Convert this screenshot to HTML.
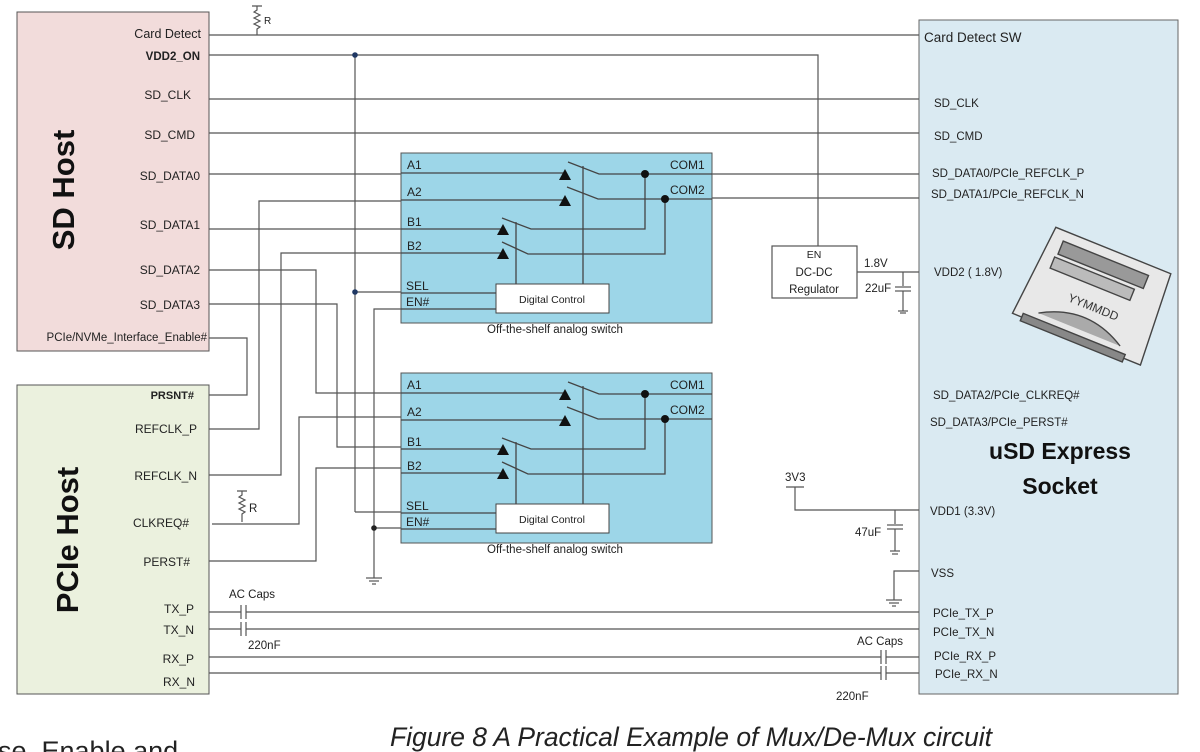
<!DOCTYPE html>
<html><head><meta charset="utf-8"><style>
html,body{margin:0;padding:0;background:#fff;}
svg{display:block;font-family:"Liberation Sans",sans-serif;}
</style></head><body>
<svg width="1200" height="752" viewBox="0 0 1200 752" xmlns="http://www.w3.org/2000/svg">
<defs>
<g id="sw">
  <rect x="401" y="153" width="311" height="170" fill="#9dd6e8" stroke="#555" stroke-width="1"/>
  <g stroke="#444" stroke-width="1.3" fill="none">
    <line x1="401" y1="173" x2="565" y2="173"/>
    <line x1="401" y1="200" x2="565" y2="200"/>
    <line x1="401" y1="229" x2="503" y2="229"/>
    <line x1="401" y1="253" x2="503" y2="253"/>
    <polyline points="568,162 599,174 712,174"/>
    <polyline points="567,187 598,199 712,199"/>
    <polyline points="502,218 531,229 645,229 645,174"/>
    <polyline points="502,242 528,254 665,254 665,199"/>
    <line x1="583" y1="166" x2="583" y2="284"/>
    <line x1="516" y1="222" x2="516" y2="284"/>
    <line x1="401" y1="293" x2="496" y2="293"/>
    <line x1="401" y1="309" x2="496" y2="309"/>
  </g>
  <polygon points="559,180 565,169 571,180" fill="#111"/>
  <polygon points="559,206 565,195 571,206" fill="#111"/>
  <polygon points="497,235 503,224 509,235" fill="#111"/>
  <polygon points="497,259 503,248 509,259" fill="#111"/>
  <circle cx="645" cy="174" r="4" fill="#111"/>
  <circle cx="665" cy="199" r="4" fill="#111"/>
  <rect x="496" y="284" width="113" height="29" fill="#fff" stroke="#444" stroke-width="1"/>
  <text x="552" y="303" font-size="10.5" text-anchor="middle" fill="#222">Digital Control</text>
  <g font-size="12" fill="#222">
    <text x="407" y="169">A1</text><text x="407" y="196">A2</text>
    <text x="407" y="226">B1</text><text x="407" y="250">B2</text>
    <text x="406" y="290">SEL</text><text x="406" y="306">EN#</text>
    <text x="670" y="169">COM1</text><text x="670" y="194">COM2</text>
  </g>
  <text x="555" y="333" font-size="11.5" text-anchor="middle" fill="#222">Off-the-shelf analog switch</text>
</g>
</defs>

<!-- Hosts -->
<rect x="17" y="12" width="192" height="339" fill="#f2dcdb" stroke="#555"/>
<rect x="17" y="385" width="192" height="309" fill="#ebf1de" stroke="#555"/>
<text transform="translate(74,190) rotate(-90)" font-size="31" font-weight="bold" text-anchor="middle" fill="#111">SD Host</text>
<text transform="translate(78,540) rotate(-90)" font-size="31" font-weight="bold" text-anchor="middle" fill="#111">PCIe Host</text>
<g font-size="12" fill="#222" text-anchor="end">
  <text x="201" y="38" font-size="12.5">Card Detect</text>
  <text x="200" y="60" font-weight="bold" font-size="11.5">VDD2_ON</text>
  <text x="191" y="99">SD_CLK</text>
  <text x="195" y="139">SD_CMD</text>
  <text x="200" y="180">SD_DATA0</text>
  <text x="200" y="229">SD_DATA1</text>
  <text x="200" y="274">SD_DATA2</text>
  <text x="200" y="309">SD_DATA3</text>
  <text x="207" y="341" font-size="11.5">PCIe/NVMe_Interface_Enable#</text>
  <text x="194" y="399" font-weight="bold" font-size="11">PRSNT#</text>
  <text x="197" y="433">REFCLK_P</text>
  <text x="197" y="480">REFCLK_N</text>
  <text x="189" y="527">CLKREQ#</text>
  <text x="190" y="566">PERST#</text>
  <text x="194" y="613">TX_P</text>
  <text x="194" y="634">TX_N</text>
  <text x="194" y="663">RX_P</text>
  <text x="195" y="686">RX_N</text>
</g>

<!-- Socket -->
<rect x="919" y="20" width="259" height="674" fill="#daeaf2" stroke="#666"/>
<g font-size="11.5" fill="#222">
  <text x="924" y="42" font-size="13.5">Card Detect SW</text>
  <text x="934" y="107">SD_CLK</text>
  <text x="934" y="140">SD_CMD</text>
  <text x="932" y="177">SD_DATA0/PCIe_REFCLK_P</text>
  <text x="931" y="198">SD_DATA1/PCIe_REFCLK_N</text>
  <text x="934" y="276">VDD2 ( 1.8V)</text>
  <text x="933" y="399">SD_DATA2/PCIe_CLKREQ#</text>
  <text x="930" y="426">SD_DATA3/PCIe_PERST#</text>
  <text x="930" y="515">VDD1 (3.3V)</text>
  <text x="931" y="577">VSS</text>
  <text x="933" y="617">PCIe_TX_P</text>
  <text x="933" y="636">PCIe_TX_N</text>
  <text x="934" y="660">PCIe_RX_P</text>
  <text x="935" y="678">PCIe_RX_N</text>
</g>
<text x="1060" y="459" font-size="23" font-weight="bold" text-anchor="middle" fill="#111">uSD Express</text>
<text x="1060" y="494" font-size="23" font-weight="bold" text-anchor="middle" fill="#111">Socket</text>
<!-- socket picture -->
<g transform="translate(1092,298) rotate(22)" stroke="#444" fill="#e8e8e8" stroke-width="1.4">
  <polygon points="-60,-52 64,-52 70,44 -68,44"/>
  <rect x="-48" y="-42" width="92" height="14" fill="#999"/>
  <rect x="-50" y="-24" width="86" height="12" fill="#bbb"/>
  <path d="M-44,34 Q0,8 44,34" fill="#aaa"/>
  <rect x="-58" y="40" width="110" height="8" fill="#888"/>
  <text x="-22" y="12" font-size="12" stroke="none" fill="#333">YYMMDD</text>
</g>

<!-- wires -->
<g stroke="#555" stroke-width="1.2" fill="none">
  <line x1="209" y1="35" x2="919" y2="35"/>
  <polyline points="209,55 818,55 818,246"/>
  <line x1="209" y1="99" x2="919" y2="99"/>
  <line x1="209" y1="133" x2="919" y2="133"/>
  <line x1="209" y1="174" x2="401" y2="174"/>
  <line x1="712" y1="174" x2="919" y2="174"/>
  <line x1="712" y1="198" x2="919" y2="198"/>
  <polyline points="401,201 259,201 259,429 209,429"/>
  <line x1="209" y1="229" x2="401" y2="229"/>
  <polyline points="401,253 281,253 281,475 209,475"/>
  <polyline points="209,270 316,270 316,393 401,393"/>
  <polyline points="209,304 337,304 337,447 401,447"/>
  <polyline points="209,338 247,338 247,395 209,395"/>
  <line x1="355" y1="55" x2="355" y2="512"/>
  <line x1="355" y1="292" x2="401" y2="292"/>
  <line x1="355" y1="512" x2="401" y2="512"/>
  <polyline points="401,309 374,309 374,578"/>
  <line x1="374" y1="528" x2="401" y2="528"/>
  <polyline points="212,524 299,524 299,417 401,417"/>
  <polyline points="209,561 316,561 316,468 401,468"/>
  <line x1="366" y1="578" x2="382" y2="578"/><line x1="369" y1="581" x2="379" y2="581"/><line x1="372" y1="584" x2="376" y2="584"/>
  <path d="M252,6 H262 M257,6 V10 L254,12 L260,15 L254,18 L260,21 L254,24 L260,27 L257,29 V35"/>
  <path d="M237,491 H247 M242,491 V495 L239,497 L245,500 L239,503 L245,506 L239,509 L245,512 L242,514 V522"/>
  <rect x="772" y="246" width="85" height="52" fill="#fff"/>
  <line x1="857" y1="272" x2="919" y2="272"/>
  <line x1="903" y1="272" x2="903" y2="286"/>
  <line x1="895" y1="287" x2="911" y2="287"/><line x1="895" y1="291" x2="911" y2="291"/>
  <line x1="903" y1="291" x2="903" y2="311"/>
  <line x1="898" y1="311" x2="908" y2="311"/><line x1="900" y1="313" x2="906" y2="313"/>
  <line x1="786" y1="487" x2="804" y2="487"/>
  <polyline points="795,487 795,510 919,510"/>
  <line x1="895" y1="510" x2="895" y2="524"/>
  <line x1="887" y1="525" x2="903" y2="525"/><line x1="887" y1="529" x2="903" y2="529"/>
  <line x1="895" y1="529" x2="895" y2="551"/>
  <line x1="890" y1="551" x2="900" y2="551"/><line x1="892" y1="554" x2="898" y2="554"/>
  <polyline points="919,571 894,571 894,600"/>
  <line x1="886" y1="600" x2="902" y2="600"/><line x1="889" y1="603" x2="899" y2="603"/><line x1="892" y1="606" x2="896" y2="606"/>
  <line x1="209" y1="612" x2="241" y2="612"/><line x1="246" y1="612" x2="919" y2="612"/>
  <line x1="209" y1="629" x2="241" y2="629"/><line x1="246" y1="629" x2="919" y2="629"/>
  <line x1="241" y1="605" x2="241" y2="619"/><line x1="246" y1="605" x2="246" y2="619"/>
  <line x1="241" y1="622" x2="241" y2="636"/><line x1="246" y1="622" x2="246" y2="636"/>
  <line x1="209" y1="657" x2="881" y2="657"/><line x1="886" y1="657" x2="919" y2="657"/>
  <line x1="209" y1="673" x2="881" y2="673"/><line x1="886" y1="673" x2="919" y2="673"/>
  <line x1="881" y1="650" x2="881" y2="664"/><line x1="886" y1="650" x2="886" y2="664"/>
  <line x1="881" y1="666" x2="881" y2="680"/><line x1="886" y1="666" x2="886" y2="680"/>
</g>
<circle cx="355" cy="55" r="2.8" fill="#1f3864"/>
<circle cx="355" cy="292" r="2.8" fill="#1f3864"/>
<circle cx="374" cy="528" r="2.8" fill="#222"/>

<use href="#sw"/>
<use href="#sw" transform="translate(0,220)"/>

<g font-size="11.5" fill="#222">
  <text x="264" y="24" font-size="10">R</text>
  <text x="249" y="512">R</text>
  <text x="814" y="258" font-size="10.5" text-anchor="middle">EN</text>
  <text x="814" y="276" text-anchor="middle">DC-DC</text>
  <text x="814" y="293" text-anchor="middle">Regulator</text>
  <text x="864" y="267">1.8V</text>
  <text x="865" y="292">22uF</text>
  <text x="785" y="481">3V3</text>
  <text x="855" y="536">47uF</text>
  <text x="229" y="598">AC Caps</text>
  <text x="248" y="649">220nF</text>
  <text x="857" y="645">AC Caps</text>
  <text x="836" y="700">220nF</text>
</g>
<text x="390" y="746" font-size="27" font-style="italic" fill="#222" textLength="602" lengthAdjust="spacingAndGlyphs">Figure 8 A Practical Example of Mux/De-Mux circuit</text>
<text x="-2" y="760" font-size="27" fill="#222">se, Enable and</text>
</svg>
</body></html>
